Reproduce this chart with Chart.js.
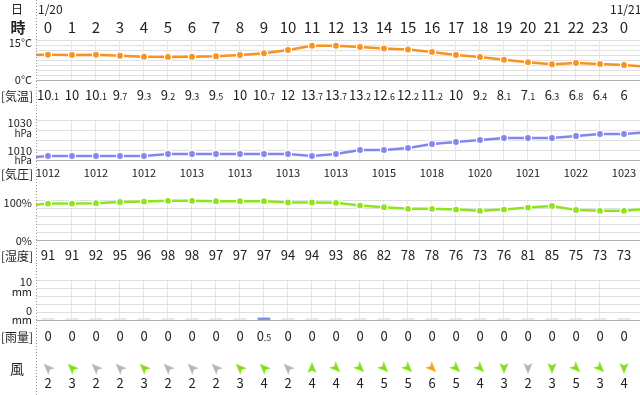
<!DOCTYPE html>
<html>
<head>
<meta charset="utf-8">
<script src="https://cdn.jsdelivr.net/npm/chart.js@4/dist/chart.umd.min.js"></script>
<style>
  body { margin: 0; width: 640px; height: 395px; background: #fff; position: relative; overflow: hidden; }
  canvas { position: absolute; left: 0; }
</style>
</head>
<body>
<canvas id="cTemp" width="640" height="110" style="top:0"></canvas>
<canvas id="cPress" width="640" height="75" style="top:110px"></canvas>
<canvas id="cHum" width="640" height="80" style="top:185px"></canvas>
<canvas id="cRain" width="640" height="130" style="top:265px"></canvas>
<script>
// 時刻
const hourLabels = ['0','1','2','3','4','5','6','7','8','9','10','11','12','13','14','15','16','17','18','19','20','21','22','23','0'];
const dayLabels = ['1/20', '11/21'];

// 気温 (°C)
const tempVals = [10.1, 10, 10.1, 9.7, 9.3, 9.2, 9.3, 9.5, 10, 10.7, 12, 13.7, 13.7, 13.2, 12.6, 12.2, 11.2, 10, 9.2, 8.1, 7.1, 6.3, 6.8, 6.4, 6];
const tempEdge = [10.0, 5.2];   // 前後の時間 (画面外)

// 気圧 (hPa)
const pressVals = [1012, 1012, 1012, 1012, 1012, 1013, 1013, 1013, 1013, 1013, 1013, 1012, 1013, 1015, 1015, 1016, 1018, 1019, 1020, 1021, 1021, 1021, 1022, 1023, 1023];
const pressLabels = [1012, 1012, 1012, 1013, 1013, 1013, 1013, 1015, 1018, 1020, 1021, 1022, 1023]; // 2時間ごと
const pressEdge = [1011, 1024];

// 湿度 (%)
const humVals = [91, 91, 92, 95, 96, 98, 98, 97, 97, 97, 94, 94, 93, 86, 82, 78, 78, 76, 73, 76, 81, 85, 75, 73, 73];
const humEdge = [85, 78];

// 雨量 (mm)
const rainVals = [0, 0, 0, 0, 0, 0, 0, 0, 0, 0.5, 0, 0, 0, 0, 0, 0, 0, 0, 0, 0, 0, 0, 0, 0, 0];

// 風 (風速 m/s, 向き: 矢印の角度, 上=0 時計回り)
const windSpeed = [2, 3, 2, 2, 3, 2, 2, 2, 3, 4, 2, 4, 4, 4, 5, 5, 6, 5, 4, 3, 2, 3, 5, 3, 4];
const windDir = [-45, -45, -45, -45, -45, -45, -45, -45, -45, -45, -45, 0, 135, 135, 135, 135, 135, 135, 135, 180, 180, 180, 135, 135, 180];

const FONT = '"Noto Sans CJK JP", "Noto Sans", sans-serif';
const TXT = '#222';

Chart.defaults.animation = false;
Chart.defaults.font.family = FONT;

function withEdges(vals, edge) {
    const pts = vals.map((v, i) => ({ x: i, y: v }));
    return [{ x: -1, y: edge[0] }, ...pts, { x: 25, y: edge[1] }];
}

function txt(ctx, s, x, y, size, align, bold) {
    ctx.font = (bold ? 'bold ' : '') + size + 'px ' + FONT;
    ctx.textAlign = align || 'center';
    ctx.textBaseline = 'middle';
    ctx.fillStyle = TXT;
    ctx.fillText(s, x, y);
}

// 小数部を小さく描く (例: 10.1)
function decTxt(ctx, v, x, y, big, small) {
    const parts = String(v).split('.');
    ctx.font = big + 'px ' + FONT;
    const w1 = ctx.measureText(parts[0]).width;
    let w2 = 0;
    if (parts[1]) {
        ctx.font = small + 'px ' + FONT;
        w2 = ctx.measureText('.' + parts[1]).width;
    }
    const x0 = x - (w1 + w2) / 2;
    const base = y + 0.36 * big;
    ctx.textAlign = 'left';
    ctx.textBaseline = 'alphabetic';
    ctx.fillStyle = TXT;
    ctx.font = big + 'px ' + FONT;
    ctx.fillText(parts[0], x0, base);
    if (parts[1]) {
        ctx.font = small + 'px ' + FONT;
        ctx.fillText('.' + parts[1], x0 + w1, base);
    }
}

function windArrow(ctx, x, y, deg, color) {
    ctx.save();
    ctx.translate(x, y);
    ctx.rotate(deg * Math.PI / 180);
    ctx.beginPath();
    ctx.moveTo(0, -6);
    ctx.lineTo(4.5, 5);
    ctx.lineTo(0, 2.5);
    ctx.lineTo(-4.5, 5);
    ctx.closePath();
    ctx.fillStyle = color;
    ctx.fill();
    ctx.restore();
}

function windColor(s) {
    if (s >= 6) return '#f5a623';
    if (s >= 3) return '#86e01c';
    return '#b8b8b8';
}

// パネル共通
function makePanel(id, top, padTop, padBottom, type, yMin, yMax, step, datasets, drawText) {
    const canvas = document.getElementById(id);
    return new Chart(canvas.getContext('2d'), {
        type: type,
        data: { datasets: datasets },
        options: {
            responsive: false,
            devicePixelRatio: 1,
            layout: { padding: { left: 36, right: 0, top: padTop, bottom: padBottom } },
            plugins: { legend: { display: false }, tooltip: { enabled: false } },
            scales: {
                x: {
                    type: 'linear',
                    min: -0.5,
                    max: 24.6667,
                    offset: false,
                    afterFit: s => { s.height = 0; },
                    ticks: { display: false, stepSize: 1 },
                    grid: {
                        offset: false,
                        drawTicks: false,
                        color: c => Number.isInteger(c.tick.value) ? '#e6e6e6' : 'rgba(0,0,0,0)'
                    },
                    border: { display: false }
                },
                y: {
                    min: yMin,
                    max: yMax,
                    afterFit: s => { s.width = 0; },
                    ticks: { display: false, stepSize: step },
                    grid: {
                        drawTicks: false,
                        color: c => c.tick.value === yMin ? '#b0b0b0' : '#e0e0e0'
                    },
                    border: { display: false }
                }
            }
        },
        plugins: [{
            id: 'texts_' + id,
            afterDraw(chart) {
                const ctx = chart.ctx;
                const xs = chart.scales.x;
                ctx.save();
                // 左の点線
                ctx.strokeStyle = '#999';
                ctx.setLineDash([1, 2]);
                ctx.lineWidth = 1;
                ctx.beginPath();
                ctx.moveTo(36.5, 0);
                ctx.lineTo(36.5, chart.height);
                ctx.stroke();
                ctx.setLineDash([]);
                drawText(ctx, v => xs.getPixelForValue(v), gy => gy - top);
                ctx.restore();
            }
        }]
    });
}

function lineSet(data, color) {
    return {
        type: 'line',
        data: data,
        borderColor: color,
        backgroundColor: color,
        borderWidth: 2.5,
        pointRadius: c => (c.raw.x < 0 || c.raw.x > 24) ? 0 : 3.5,
        pointBorderColor: '#fff',
        pointBorderWidth: 1.2,
        pointBackgroundColor: color,
        tension: 0,
        clip: { left: 0, right: 0, top: 8, bottom: 8 }
    };
}

// 気温
makePanel('cTemp', 0, 40, 30, 'line', 0, 16, 2,
    [lineSet(withEdges(tempVals, tempEdge), '#f7931e')],
    (ctx, X, Y) => {
        txt(ctx, '日', 17, Y(9), 12);
        txt(ctx, dayLabels[0], 38, Y(9), 12, 'left');
        txt(ctx, dayLabels[1], 610, Y(9), 12, 'left');
        txt(ctx, '時', 18, Y(27), 15, 'center', true);
        hourLabels.forEach((h, i) => txt(ctx, h, X(i), Y(27), 15));
        txt(ctx, '15°C', 32, Y(43), 11, 'right');
        txt(ctx, '0°C', 32, Y(79.5), 11, 'right');
        txt(ctx, '[気温]', 17, Y(96), 12);
        tempVals.forEach((v, i) => decTxt(ctx, v, X(i), Y(95.5), 13, 9));
    });

// 気圧
makePanel('cPress', 110, 10, 25, 'line', 1010, 1030, 5,
    [lineSet(withEdges(pressVals, pressEdge), '#8585f2')],
    (ctx, X, Y) => {
        txt(ctx, '1030', 32, Y(123), 11, 'right');
        txt(ctx, 'hPa', 32, Y(133), 10, 'right');
        txt(ctx, '1010', 32, Y(150.5), 11, 'right');
        txt(ctx, 'hPa', 32, Y(160.5), 10, 'right');
        txt(ctx, '[気圧]', 17, Y(174), 12);
        pressLabels.forEach((v, k) => txt(ctx, String(v), X(k * 2), Y(173), 11));
    });

// 湿度
makePanel('cHum', 185, 15, 25, 'line', 0, 100, 20,
    [lineSet(withEdges(humVals, humEdge), '#8ee61a')],
    (ctx, X, Y) => {
        txt(ctx, '100%', 32, Y(203), 11, 'right');
        txt(ctx, '0%', 32, Y(241), 11, 'right');
        txt(ctx, '[湿度]', 17, Y(256), 12);
        humVals.forEach((v, i) => txt(ctx, String(v), X(i), Y(255.5), 13));
    });

// 雨量と風
makePanel('cRain', 265, 15, 75, 'bar', 0, 10, 2,
    [{
        type: 'bar',
        data: rainVals.map((v, i) => ({ x: i, y: v })),
        backgroundColor: c => c.raw.y > 0 ? '#6f8ad6' : '#e4e4e4',
        barThickness: 12,
        minBarLength: 1.5,
        borderWidth: 0
    }],
    (ctx, X, Y) => {
        txt(ctx, '10', 32, Y(282), 11, 'right');
        txt(ctx, 'mm', 32, Y(292), 11, 'right');
        txt(ctx, '0', 32, Y(311), 11, 'right');
        txt(ctx, 'mm', 32, Y(320), 11, 'right');
        txt(ctx, '[雨量]', 17, Y(337), 12);
        rainVals.forEach((v, i) => decTxt(ctx, v, X(i), Y(336), 13, 9));
        txt(ctx, '風', 17, Y(369), 14);
        windSpeed.forEach((s, i) => {
            windArrow(ctx, X(i), Y(368), windDir[i], windColor(s));
            txt(ctx, String(s), X(i), Y(383), 13);
        });
    });
</script>
</body>
</html>
